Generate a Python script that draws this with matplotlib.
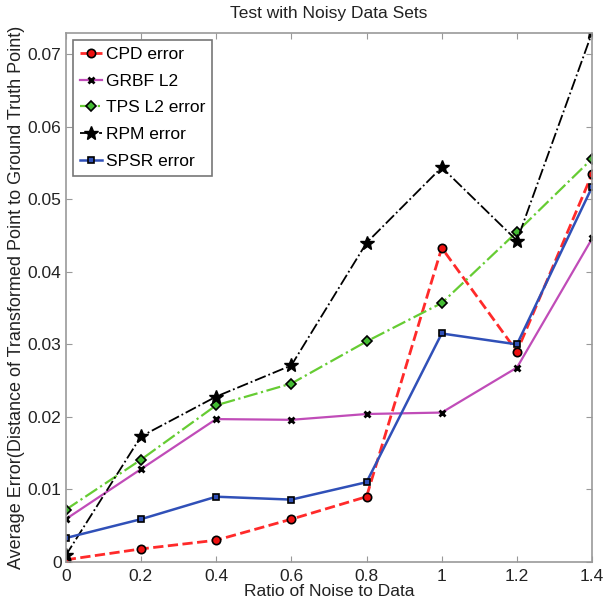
import matplotlib
matplotlib.use("Agg")
import matplotlib.pyplot as plt

plt.rcParams['font.family'] = ['Liberation Sans', 'DejaVu Sans']

ratio = [0, 0.2, 0.4, 0.6, 0.8, 1.0, 1.2, 1.4]
cpd = [0.0003, 0.0018, 0.0030, 0.0059, 0.0090, 0.0433, 0.0290, 0.0535]
grbf = [0.0059, 0.0128, 0.0197, 0.0196, 0.0204, 0.0206, 0.0268, 0.0446]
tps = [0.0072, 0.0141, 0.0216, 0.0246, 0.0304, 0.0357, 0.0455, 0.0556]
rpm = [0.0009, 0.0173, 0.0228, 0.0271, 0.0440, 0.0544, 0.0443, 0.0730]
spsr = [0.0033, 0.0059, 0.0090, 0.0086, 0.0110, 0.0315, 0.0300, 0.0517]

labels = ['CPD error', 'GRBF L2', 'TPS L2 error', 'RPM error', 'SPSR error']

fig = plt.figure(figsize=(6.03, 6.03), dpi=100)
ax = fig.add_axes([0.109, 0.068, 0.873, 0.877])

ax.plot(ratio, cpd, '--', color='#ff2a2a', lw=2, marker='o', ms=6,
        mfc='#ee1111', mec='black', mew=1.2, label=labels[0])
ax.plot(ratio, grbf, '-', color='#c04cb8', lw=1.6, marker='x', ms=4,
        mec='black', mew=2, label=labels[1])
ax.plot(ratio, tps, '-.', color='#66cc33', lw=1.6, marker='D', ms=5,
        mfc='#44bb33', mec='black', mew=1.2, label=labels[2])
ax.plot(ratio, rpm, '-.', color='black', lw=1.3, marker='*', ms=10,
        mfc='black', mec='black', label=labels[3])
ax.plot(ratio, spsr, '-', color='#3050b8', lw=1.8, marker='s', ms=5,
        mfc='#3050b8', mec='black', mew=1.2, label=labels[4])

ax.set_xlim(0, 1.4)
ax.set_ylim(0, 0.0729)
ax.set_xticks([0, 0.2, 0.4, 0.6, 0.8, 1, 1.2, 1.4])
ax.set_xticklabels(['0', '0.2', '0.4', '0.6', '0.8', '1', '1.2', '1.4'])
ax.set_yticks([0, 0.01, 0.02, 0.03, 0.04, 0.05, 0.06, 0.07])
ax.set_yticklabels(['0', '0.01', '0.02', '0.03', '0.04', '0.05', '0.06', '0.07'])
ax.tick_params(direction='in', top=True, right=True, labelsize=12.5,
               color='#999999', length=4, labelcolor='#222222', pad=3)
ax.tick_params(axis='x', pad=5)
for s in ax.spines.values():
    s.set_color('#999999')
    s.set_linewidth(1.2)

ax.set_title('Test with Noisy Data Sets', fontsize=12.5, color='#222222', pad=11)
ax.set_xlabel('Ratio of Noise to Data', fontsize=12.5, color='#222222', labelpad=0)
ax.set_ylabel('Average Error(Distance of Transformed Point to Ground Truth Point)',
              fontsize=13, color='#222222', labelpad=2)

leg = ax.legend(loc='upper left', fontsize=12.5, handlelength=1.3, handletextpad=0.2,
                borderpad=0.4, labelspacing=0.66, fancybox=False, framealpha=1,
                borderaxespad=0.4)
leg.get_frame().set_edgecolor('#777777')
leg.get_frame().set_linewidth(1.2)

fig.savefig('out.png', dpi=100)
